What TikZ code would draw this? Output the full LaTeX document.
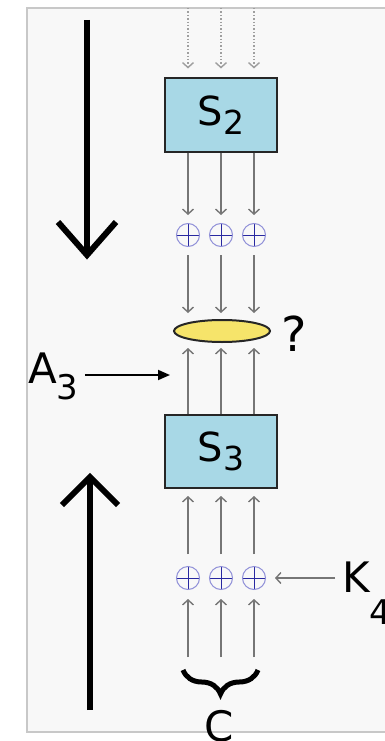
\documentclass[tikz,border=0pt]{standalone}
\usepackage{fontspec}
\setmainfont{DejaVu Sans}
\usetikzlibrary{arrows.meta,shapes.geometric,decorations.pathreplacing}
\definecolor{bgc}{HTML}{F8F8F8}
\definecolor{framec}{HTML}{C8C8C8}
\definecolor{boxblue}{HTML}{A8D8E6}
\definecolor{ellyellow}{HTML}{F6E46A}
\definecolor{xorring}{HTML}{9090D8}
\definecolor{xorcross}{HTML}{2828A0}
\definecolor{arrgray}{HTML}{767676}
\newcommand\boxsub[1]{\raisebox{-9pt}{\fontsize{33}{33}\selectfont #1}}
\newcommand\labsub[2]{\raisebox{-#1}{\fontsize{34}{34}\selectfont #2}}
\begin{document}
\begin{tikzpicture}[x=1pt,y=-1pt,
  sbox/.style={draw=black!85,line width=2pt,fill=boxblue,minimum width=112pt,minimum height=73pt,inner sep=0pt,font=\fontsize{40}{40}\selectfont},
  lab/.style={inner sep=0pt,font=\fontsize{42}{42}\selectfont},
  xor/.style={circle,minimum size=23pt,inner sep=0pt,draw=xorring,line width=1pt,
    path picture={\draw[xorcross,line width=1pt] (path picture bounding box.north) -- (path picture bounding box.south) (path picture bounding box.west) -- (path picture bounding box.east);}},
  garrow/.style={draw=arrgray,line width=1.4pt,-{Straight Barb[length=5pt,width=11pt]}},
  dotarrow/.style={draw=arrgray!70,line width=1.4pt,dotted,-{Straight Barb[length=5pt,width=11pt]}},
  bigline/.style={line width=6pt,black,line join=miter},
  blackarrow/.style={draw=black,line width=1.8pt,-{Triangle[length=12pt,width=10pt]}}
]
\useasboundingbox (0,0) rectangle (385,741);
\fill[white] (0,0) rectangle (385,741);
\fill[bgc] (27,8) rectangle (385,732);
\draw[framec,line width=1.5pt] (385,8) -- (27,8) -- (27,732) -- (385,732);

% big direction arrows
\coordinate (dtop) at (87,20);
\coordinate (dtip) at (87,255);
\draw[bigline] (dtop) -- (dtip);
\draw[bigline] (58,222) -- (dtip) -- (116,222);
\coordinate (ubot) at (90,710);
\coordinate (utip) at (90,477);
\draw[bigline] (ubot) -- (utip);
\draw[bigline] (62,505) -- (utip) -- (118,505);

% boxes
\node[sbox] (S2) at (221,115) {S\boxsub{2}};
\node[sbox] (S3) at (221,451.5) {S\boxsub{3}};
\node[ellipse,draw=black!85,line width=2pt,fill=ellyellow,minimum width=96pt,minimum height=22pt,inner sep=0pt] (E) at (222,331) {};
\node[inner sep=0pt,font=\fontsize{48}{48}\selectfont] (q) at (294,334) {?};

% columns
\foreach \i/\dx in {1/-33,2/0,3/33}{
  \coordinate (t\i) at ([xshift=\dx pt]S2.north |- 0,8);
  \draw[dotarrow,shorten >=9pt] (t\i) -- ([xshift=\dx pt]S2.north);
  \node[xor] (xu\i) at ([xshift=\dx pt]221,235) {};
  \draw[garrow,shorten >=8pt] ([xshift=\dx pt]S2.south) -- (xu\i);
  \coordinate (e\i) at ([xshift=\dx pt]221,313);
  \draw[garrow,shorten <=8pt] (xu\i) -- (e\i);
  \coordinate (f\i) at ([xshift=\dx pt]221,348);
  \draw[garrow] ([xshift=\dx pt]S3.north) -- (f\i);
  \node[xor] (xl\i) at ([xshift=\dx pt]221,578) {};
  \draw[garrow,shorten <=12pt,shorten >=7pt] (xl\i) -- ([xshift=\dx pt]S3.south);
  \coordinate (b\i) at ([xshift=\dx pt]221,657);
  \draw[garrow,shorten >=9pt] (b\i) -- (xl\i);
}

% labels
\node[lab,anchor=base west] (A3) at (28,383) {A\labsub{16pt}{3}};
\coordinate (a3end) at (170,375);
\draw[blackarrow,shorten <=6pt] (A3.east |- a3end) -- (a3end);
\node[lab,anchor=base west] (K4) at (342,592) {K\labsub{32pt}{4}};
\draw[garrow,shorten <=7pt,shorten >=9pt] (K4.west |- xl3) -- (xl3);

% brace and C
\coordinate (br1) at (183,670);
\coordinate (br2) at (258,670);
\draw[line width=5pt,decorate,decoration={brace,mirror,amplitude=24pt}] (br1) -- (br2);
\node[lab,anchor=base] (C) at (219,741) {C};
\end{tikzpicture}
\end{document}
